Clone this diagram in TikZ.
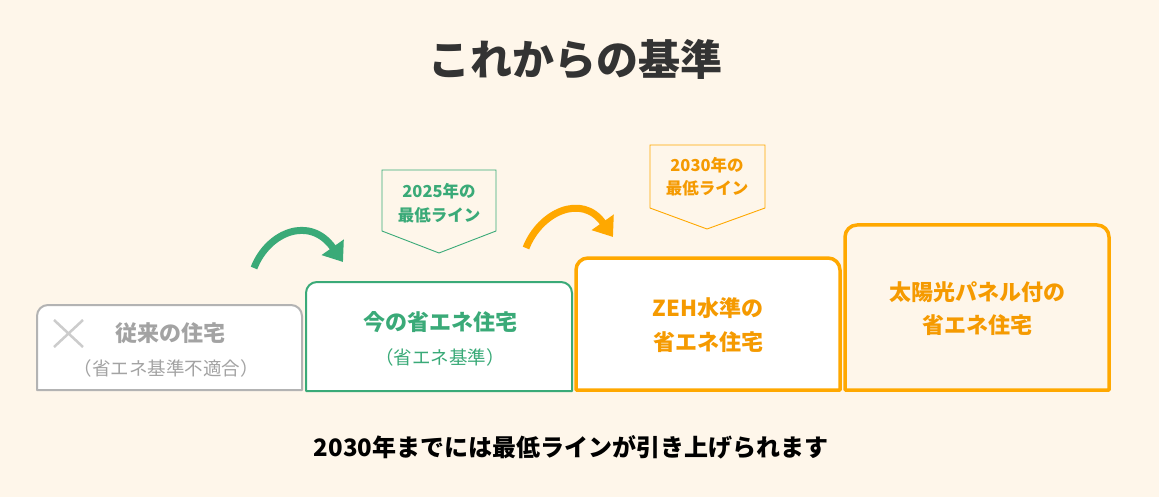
\documentclass[tikz,border=0pt]{standalone}
\usepackage{fontspec}
\setmainfont{Noto Sans CJK JP}
\usetikzlibrary{arrows.meta}
\definecolor{bgc}{HTML}{FEF6EA}
\definecolor{grayline}{HTML}{B3B3B3}
\definecolor{graytext}{HTML}{A3A3A3}
\definecolor{grayx}{HTML}{CCCCCC}
\definecolor{greenc}{HTML}{3AAA78}
\definecolor{orangec}{HTML}{FFA800}
\definecolor{orangetext}{HTML}{F59A00}
\definecolor{titlec}{HTML}{333333}
\tikzset{
  boxpath/.style={line width=2pt, line join=round},
  flagpath/.style={line width=0.9pt, fill=bgc},
  boxtitle/.style={font=\bfseries\fontsize{22}{26}\selectfont, inner sep=0pt, anchor=center},
  boxsub/.style={font=\fontsize{18.5}{22}\selectfont, inner sep=0pt, anchor=center},
  flagtext/.style={font=\bfseries\fontsize{16.5}{19}\selectfont, inner sep=0pt, anchor=center},
  curvearrow/.style={line width=7pt, -{Triangle[length=18pt,width=26pt]}},
}
\begin{document}
\begin{tikzpicture}[x=1pt,y=-1pt]
\fill[bgc] (0,0) rectangle (1159,497);
\useasboundingbox (0,0) rectangle (1159,497);

% title
\node[font=\bfseries\fontsize{42}{48}\selectfont, text=titlec, inner sep=0pt] (title) at (575,60) {これからの基準};

% box 1 (gray)
\path[boxpath, draw=grayline, fill=white] (37,390) [rounded corners=11pt] -- (37,305) -- (302,305) [sharp corners] -- (302,390) -- cycle;
\draw[grayx, line width=2.5pt] (54,320) -- (83,347) (83,320) -- (54,347);
\node[boxtitle, text=graytext] (b1a) at (170,333) {従来の住宅};
\node[boxsub, text=graytext] (b1b) at (166,368) {（省エネ基準不適合）};

% box 2 (green)
\path[boxpath, draw=greenc, fill=white] (306,391) [rounded corners=11pt] -- (306,282) -- (572,282) [sharp corners] -- (572,391) -- cycle;
\node[boxtitle, text=greenc] (b2a) at (440,322) {今の省エネ住宅};
\node[boxsub, text=greenc] (b2b) at (440,357) {（省エネ基準）};

% box 3 (orange, white)
\path[boxpath, line width=3.5pt, draw=orangec, fill=white] (576,390) [rounded corners=12pt] -- (576,258) -- (840,258) [sharp corners] -- (840,390) -- cycle;
\node[boxtitle, text=orangetext] (b3a) at (708,308) {ZEH水準の};
\node[boxtitle, text=orangetext] (b3b) at (708,342) {省エネ住宅};

% box 4 (orange, cream)
\path[boxpath, line width=3.5pt, draw=orangec, fill=bgc] (845,390) [rounded corners=12pt] -- (845,225) -- (1109,225) [sharp corners] -- (1109,390) -- cycle;
\node[boxtitle, text=orangetext] (b4a) at (977,292) {太陽光パネル付の};
\node[boxtitle, text=orangetext] (b4b) at (977,325) {省エネ住宅};

% flag 1
\path[flagpath, draw=greenc] (382,170) -- (496,170) -- (496,231) -- (439,253) -- (382,231) -- cycle;
\node[flagtext, text=greenc] (f1a) at (439,191) {2025年の};
\node[flagtext, text=greenc] (f1b) at (439,215) {最低ライン};

% flag 2
\path[flagpath, draw=orangec] (650,145) -- (765,145) -- (765,208) -- (707,229) -- (650,208) -- cycle;
\node[flagtext, text=orangetext] (f2a) at (707,165) {2030年の};
\node[flagtext, text=orangetext] (f2b) at (707,188) {最低ライン};

% arrows
\coordinate (a1s) at (254,268);
\coordinate (a1e) at (343,262);
\draw[curvearrow, draw=greenc] (a1s) .. controls (268,232) and (310,215) .. (a1e);
\coordinate (a2s) at (526,248);
\coordinate (a2e) at (613,237);
\draw[curvearrow, draw=orangec] (a2s) .. controls (540,212) and (582,193) .. (a2e);

% bottom text
\node[font=\bfseries\fontsize{24}{28}\selectfont, inner sep=0pt] (bottom) at (571,447) {2030年までには最低ラインが引き上げられます};
\end{tikzpicture}
\end{document}
